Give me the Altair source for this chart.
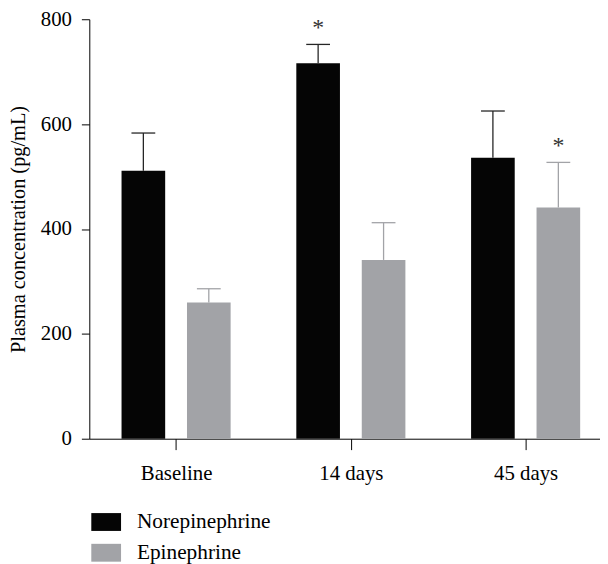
import json
import altair as alt
import pandas as pd

# ---- data ----
categories = ["Baseline", "14 days", "45 days"]
groups = ["Norepinephrine", "Epinephrine"]
ne_mean = [511, 716, 536]
ne_sem = [72, 36, 89]
epi_mean = [260, 341, 441]
epi_sem = [26, 71, 86]
ne_sig = [False, True, False]
epi_sig = [False, False, True]
y_ticks = [0, 200, 400, 600, 800]

# ---- styling / layout ----
bar_colors = ["#050505", "#a2a3a7"]
err_colors = ["#262626", "#a2a3a7"]
FONT = "Liberation Serif"
W, H = 515, 423
STEP = 176.25     # px between group centres
FIRST = 87.5      # px from y axis to first group centre
BAR = 44          # bar width px
GAP = 22          # gap between the two bars px
CAP = 24          # error cap width px

rows = []
for i, c in enumerate(categories):
    for g, (gname, means, sems, sigs) in enumerate(
        [(groups[0], ne_mean, ne_sem, ne_sig), (groups[1], epi_mean, epi_sem, epi_sig)]
    ):
        start = -(GAP / 2 + BAR) if g == 0 else GAP / 2
        x0 = i + start / STEP
        x1 = i + (start + BAR) / STEP
        xc = (x0 + x1) / 2
        rows.append(dict(
            cat=c, idx=i, group=gname, mean=means[i], sem=sems[i],
            top=means[i] + sems[i], sig=sigs[i], ecol=err_colors[g],
            x0=x0, x1=x1, xc=xc,
            c0=xc - CAP / 2 / STEP, c1=xc + CAP / 2 / STEP,
        ))
df = pd.DataFrame(rows)

xscale = alt.Scale(domain=[-FIRST / STEP, (W - FIRST) / STEP], nice=False, zero=False)
yscale = alt.Scale(domain=[0, 800], nice=False)

xaxis = alt.Axis(
    values=[0, 1, 2],
    labelExpr=json.dumps(categories) + "[datum.value]",
    tickSize=11, labelPadding=13, grid=False, title=None,
)
yaxis = alt.Axis(
    values=y_ticks, tickSize=8, labelPadding=10, grid=False,
    titlePadding=12,
)

base = alt.Chart(df)

bars = base.mark_bar().encode(
    x=alt.X("x0:Q", scale=xscale, axis=xaxis),
    x2="x1:Q",
    y=alt.Y("mean:Q", scale=yscale, axis=yaxis, title="Plasma concentration (pg/mL)"),
    y2=alt.datum(0),
    color=alt.Color(
        "group:N",
        scale=alt.Scale(domain=groups, range=bar_colors),
        legend=alt.Legend(
            title=None, orient="none", legendX=2, legendY=492,
            symbolType="M-1,-0.6H1V0.6H-1Z", symbolSize=900,
            symbolStrokeWidth=0, labelOffset=16, rowPadding=5, padding=0,
            labelFontSize=21.5, labelFont=FONT, labelColor="black",
        ),
    ),
)

stems = base.mark_rule(strokeWidth=1.3).encode(
    x=alt.X("xc:Q", scale=xscale),
    y=alt.Y("mean:Q", scale=yscale),
    y2="top:Q",
    color=alt.Color("ecol:N", scale=None),
)

caps = base.mark_rule(strokeWidth=1.3).encode(
    x=alt.X("c0:Q", scale=xscale),
    x2="c1:Q",
    y=alt.Y("top:Q", scale=yscale),
    color=alt.Color("ecol:N", scale=None),
)

stars = base.transform_filter("datum.sig").mark_text(
    text="*", fontSize=24, font=FONT, color="#333333", dy=-16, baseline="middle"
).encode(
    x=alt.X("xc:Q", scale=xscale),
    y=alt.Y("top:Q", scale=yscale),
)

chart = alt.layer(bars, stems, caps, stars).properties(
    width=W, height=H,
    autosize=alt.AutoSizeParams(type="none"),
    padding={"left": 82, "top": 9, "right": 0, "bottom": 124},
).configure_view(stroke=None).configure_axis(
    labelFont=FONT, titleFont=FONT, labelFontSize=21, titleFontSize=20.5,
    labelColor="black", titleColor="black", titleFontWeight="normal",
    domainColor="black", tickColor="black", domainWidth=1, tickWidth=1,
)

chart.save("out.html", embed_options={"renderer": "svg", "actions": False})
